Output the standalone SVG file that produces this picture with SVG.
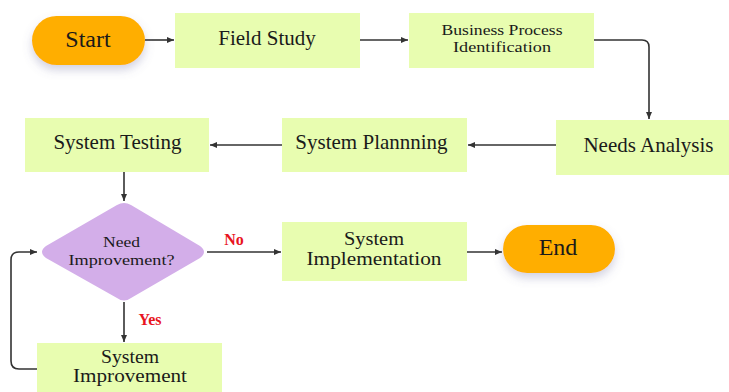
<svg xmlns="http://www.w3.org/2000/svg" width="729" height="392" viewBox="0 0 729 392">
<style>
.box{fill:#E8FDB0;}
.pill{fill:#FFAE00;filter:url(#sh);}
.dia{fill:#D3AEE9;}
text{font-family:"Liberation Serif","DejaVu Serif",serif;fill:#1a1a1a;text-anchor:middle;}
.t21{font-size:21px;}
.t19{font-size:18.5px;}
.t15{font-size:15px;}
.t24{font-size:24px;}
.lab{font-size:16px;font-weight:bold;fill:#E8141E;}
.ln{fill:none;stroke:#333;stroke-width:1.6;marker-end:url(#ah);}
</style>
<defs>
<marker id="ah" markerWidth="8" markerHeight="8" refX="7" refY="4" orient="auto" markerUnits="userSpaceOnUse">
<path d="M0,1 L7,4 L0,7 Z" fill="#333"/>
</marker>
<filter id="sh" x="-30%" y="-30%" width="160%" height="180%">
<feDropShadow dx="0" dy="5" stdDeviation="5" flood-color="#6a6a9a" flood-opacity="0.3"/>
</filter>
</defs>
<rect width="729" height="392" fill="#fff"/>
<g id="connectors">
<path class="ln" d="M145,40 H174"/>
<path class="ln" d="M360,40 H408"/>
<path class="ln" d="M594,40 H642 Q649,40 649,47 V119"/>
<path class="ln" d="M556,145 H468"/>
<path class="ln" d="M282,145 H210"/>
<path class="ln" d="M124,172 V201"/>
<path class="ln" d="M207,252 H281"/>
<path class="ln" d="M467,252 H502"/>
<path class="ln" d="M124,302 V342"/>
<path class="ln" d="M37,369 H19 Q11,369 11,361 V260 Q11,252 19,252 H37"/>
<text class="lab" x="234" y="245">No</text>
<text class="lab" x="150" y="325">Yes</text>
</g>
<g id="start"><rect class="pill" x="32" y="16" width="113" height="49" rx="24.5"/><text class="t24" x="88" y="47">Start</text></g>
<g id="field-study"><rect class="box" x="175" y="13" width="185" height="55"/><text class="t21" x="267" y="45">Field Study</text></g>
<g id="business-process"><rect class="box" x="409" y="13" width="185" height="55"/><text class="t15" x="502" y="35" textLength="121" lengthAdjust="spacingAndGlyphs">Business Process</text><text class="t15" x="502" y="52" textLength="98" lengthAdjust="spacingAndGlyphs">Identification</text></g>
<g id="needs-analysis"><rect class="box" x="556" y="120" width="173" height="55"/><text class="t21" x="648.5" y="152">Needs Analysis</text></g>
<g id="system-planning"><rect class="box" x="282" y="118" width="185" height="54"/><text class="t21" x="371.5" y="149">System Plannning</text></g>
<g id="system-testing"><rect class="box" x="25" y="118" width="184" height="54"/><text class="t21" x="117.5" y="149">System Testing</text></g>
<g id="decision"><path class="dia" d="M117,205 Q124,201 131,205 L200,246 Q208,252 200,258 L131,298 Q124,303 117,298 L46,258 Q38,252 46,246 Z"/><text class="t15" x="121.5" y="247" textLength="37" lengthAdjust="spacingAndGlyphs">Need</text><text class="t15" x="121.5" y="265" textLength="106" lengthAdjust="spacingAndGlyphs">Improvement?</text></g>
<g id="system-implementation"><rect class="box" x="282" y="222" width="185" height="59"/><text class="t19" x="374" y="245" textLength="60" lengthAdjust="spacingAndGlyphs">System</text><text class="t19" x="374" y="265" textLength="135" lengthAdjust="spacingAndGlyphs">Implementation</text></g>
<g id="end"><rect class="pill" x="503" y="225" width="112" height="48" rx="24"/><text class="t24" x="558" y="255">End</text></g>
<g id="system-improvement"><rect class="box" x="37" y="343" width="185" height="55"/><text class="t19" x="130" y="363" textLength="58" lengthAdjust="spacingAndGlyphs">System</text><text class="t19" x="130" y="382" textLength="114" lengthAdjust="spacingAndGlyphs">Improvement</text></g>
</svg>
